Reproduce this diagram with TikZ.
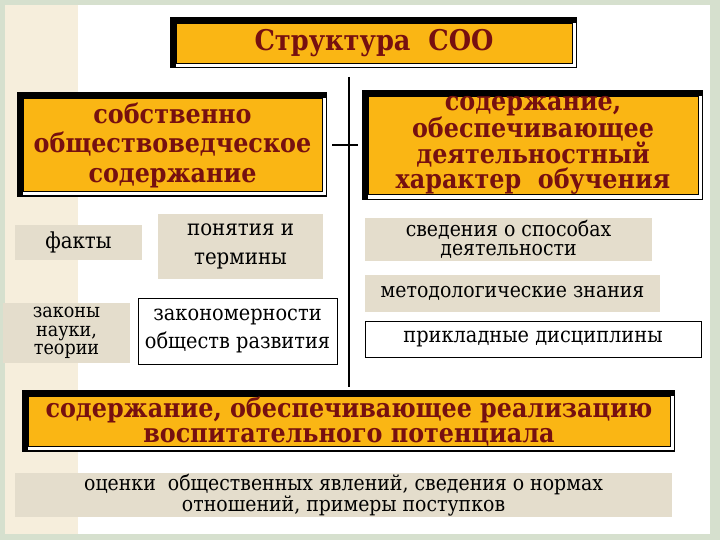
\documentclass[tikz,border=0pt]{standalone}
\usepackage{fontspec}
\IfFontExistsTF{DejaVu Serif Condensed}
  {\setmainfont{DejaVu Serif Condensed}}
  {\setmainfont{DejaVu Serif}[FakeStretch=0.9]}
\usetikzlibrary{backgrounds,calc}
\definecolor{orng}{RGB}{250,182,20}
\definecolor{dred}{RGB}{118,16,16}
\definecolor{beige}{RGB}{228,221,204}
\definecolor{strip}{RGB}{246,238,220}
\definecolor{frm}{RGB}{214,224,206}
\begin{document}
\begin{tikzpicture}[x=1pt,y=-1pt,
  hdr/.style={fill=orng, draw=black, line width=0.8pt, text=dred, align=center, inner sep=0pt},
  tag/.style={fill=beige, align=center, inner sep=0pt},
  wbox/.style={fill=white, draw=black, line width=0.8pt, align=center, inner sep=0pt},
  conn/.style={line width=2pt, draw=black}]
\useasboundingbox (0,0) rectangle (720,540);

% header boxes
\node[hdr, minimum width=396pt, minimum height=40pt,
      font=\rmfamily\bfseries\fontsize{28.5}{32}\selectfont] (title) at (374,43) {Структура~~СОО};
\node[hdr, minimum width=299pt, minimum height=93pt,
      font=\rmfamily\bfseries\fontsize{26.5}{29.5}\selectfont] (lbox) at (172.5,145)
      {собственно\\обществоведческое\\содержание};
\node[hdr, minimum width=330pt, minimum height=94pt,
      font=\rmfamily\bfseries\fontsize{26.5}{23.5}\selectfont] (rbox) at (533,145.5)
      {содержание,\\обеспечивающее\\деятельностный\\характер~~обучения};
\node[hdr, minimum width=642pt, minimum height=49pt,
      font=\rmfamily\bfseries\fontsize{26.5}{25}\selectfont] (bbox) at (349,421.5)
      {содержание, обеспечивающее реализацию\\воспитательного потенциала};

% small boxes
\node[tag, minimum width=127pt, minimum height=35pt, font=\rmfamily\fontsize{22}{20}\selectfont]
      (facts) at (78.5,242.5) {факты};
\node[tag, minimum width=165pt, minimum height=65pt, font=\rmfamily\fontsize{22}{29}\selectfont]
      (terms) at (240.5,246.5) {понятия и\\термины};
\node[tag, minimum width=127pt, minimum height=60pt, font=\rmfamily\fontsize{19.5}{18.5}\selectfont]
      (laws) at (66.5,333) {законы\\науки,\\теории};
\node[wbox, minimum width=199pt, minimum height=66pt, font=\rmfamily\fontsize{21.5}{28}\selectfont]
      (regul) at (237.5,331) {закономерности\\обществ развития};
\node[tag, minimum width=287pt, minimum height=43pt, font=\rmfamily\fontsize{21}{19.5}\selectfont]
      (svd) at (508.5,239.5) {сведения о способах\\деятельности};
\node[tag, minimum width=295pt, minimum height=37pt, font=\rmfamily\fontsize{21}{20}\selectfont]
      (meth) at (512.5,293.5) {методологические знания};
\node[wbox, minimum width=336pt, minimum height=36pt, font=\rmfamily\fontsize{21.5}{20}\selectfont]
      (appl) at (533,339) {прикладные дисциплины};
\node[tag, minimum width=657pt, minimum height=44pt, font=\rmfamily\fontsize{21}{16.5}\selectfont]
      (eval) at (343.5,495) {оценки~~общественных явлений, сведения о нормах\\отношений, примеры поступков};

% connectors
\coordinate (vtop) at (349,77);
\draw[conn] (vtop) -- ([yshift=9pt]vtop |- bbox.north);
\draw[conn] ([xshift=10pt]lbox.east) -- ([xshift=-10pt]rbox.west |- lbox.east);

\begin{scope}[on background layer]
  \fill[frm] (0,0) rectangle (720,540);
  \fill[white] (5,5) rectangle (710,534);
  \fill[strip] (5,5) rectangle (78,534);
  \foreach \n in {title,lbox,rbox,bbox} {
    \fill[black] ([shift={(-6pt,6pt)}]\n.north west) rectangle ([shift={(5pt,-5pt)}]\n.south east);
    \fill[white] (\n.north west) rectangle ([shift={(3.5pt,-3.5pt)}]\n.south east);
  }
\end{scope}
\end{tikzpicture}
\end{document}
